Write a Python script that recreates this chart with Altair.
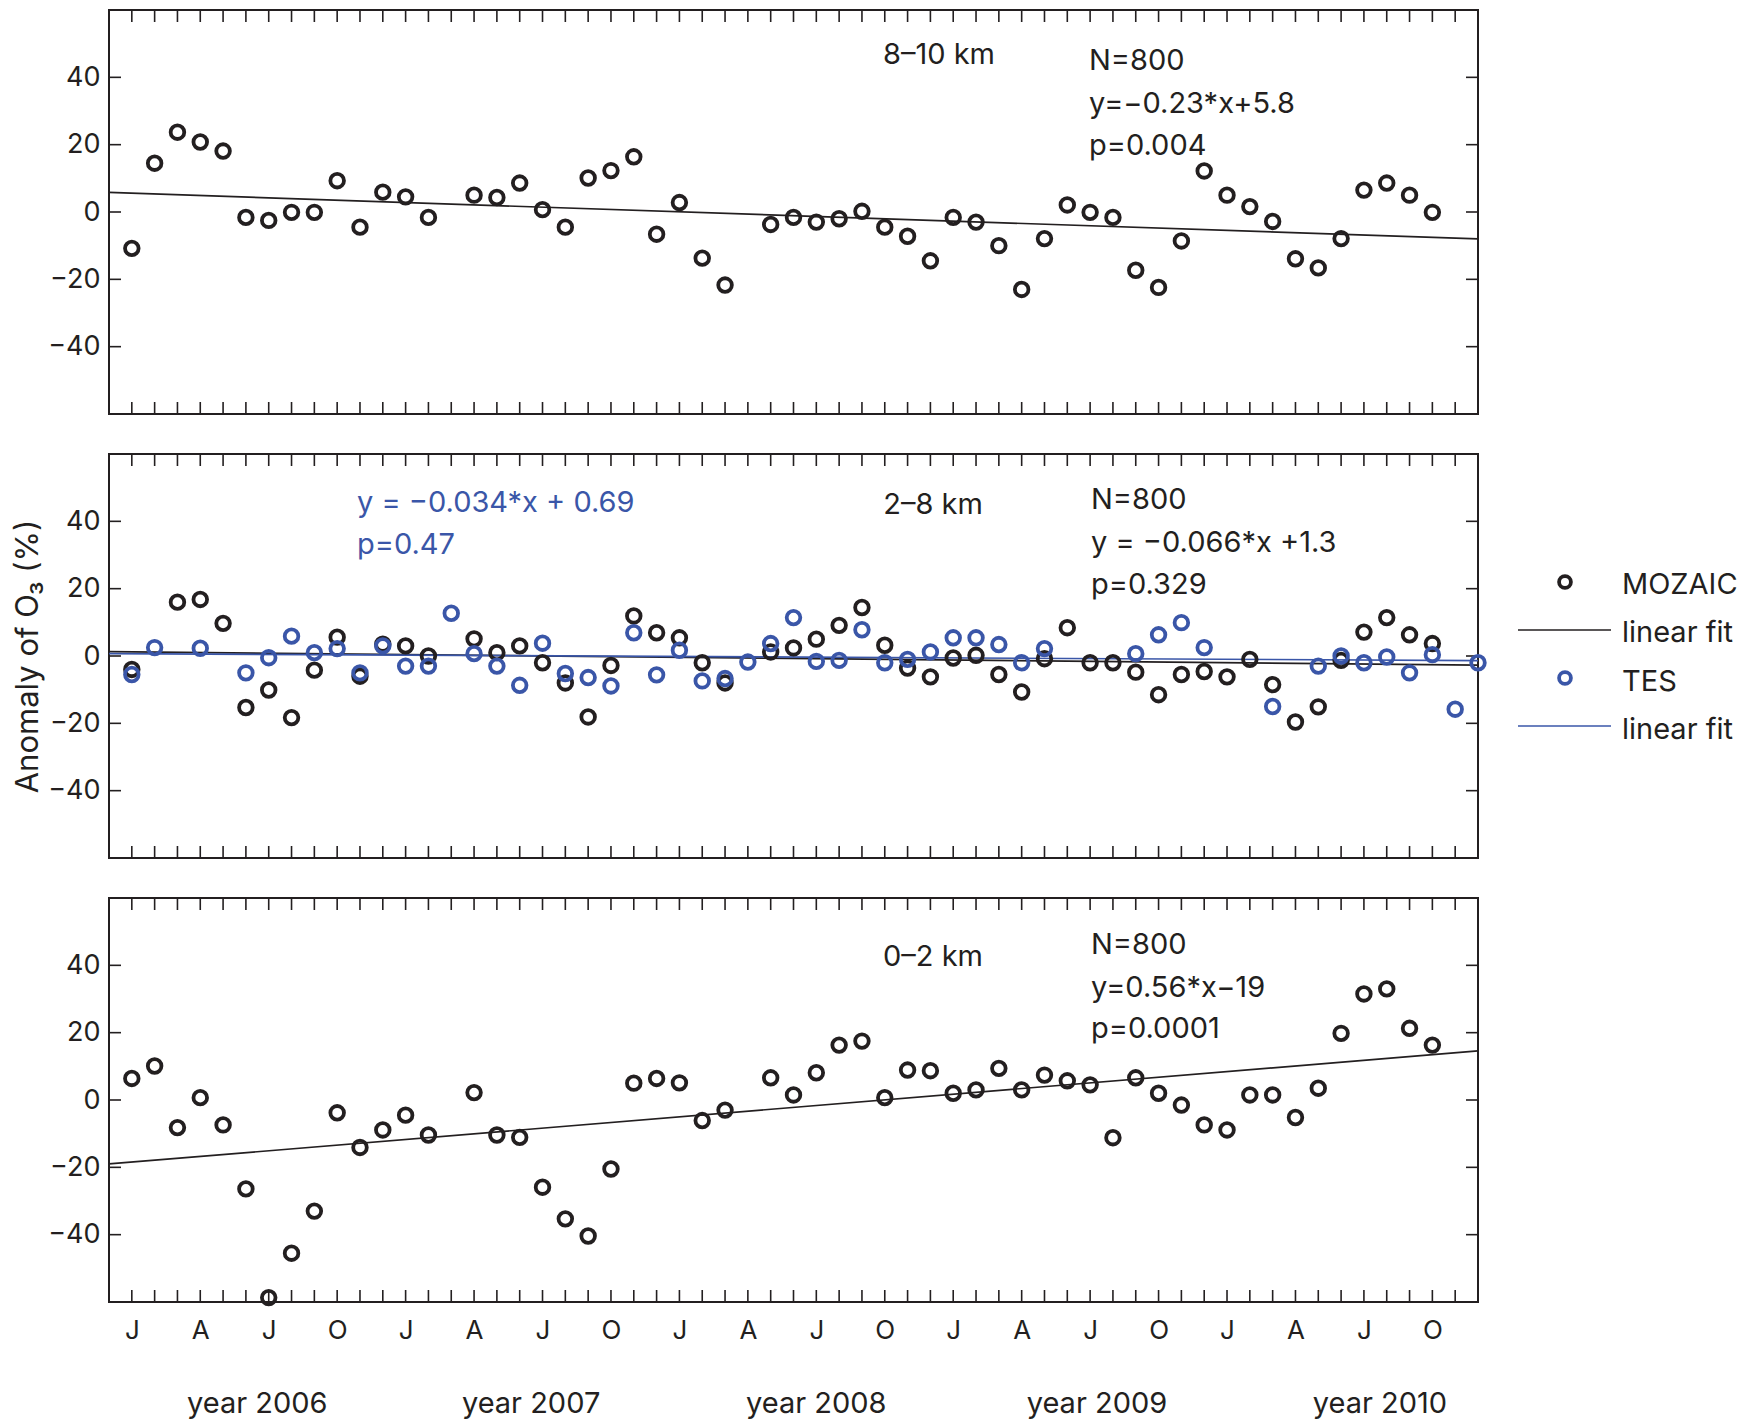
import altair as alt
import pandas as pd

# ---------------- data ----------------
months = list(range(60))  # 0 = Jan 2006 ... 59 = Dec 2010

moz_8_10 = [-10.8, 14.5, 23.7, 20.8, 18.1, -1.6, -2.5, -0.1, -0.1, 9.3,
            -4.5, 5.9, 4.5, -1.6, None, 5.0, 4.3, 8.6, 0.7, -4.5,
            10.1, 12.3, 16.4, -6.6, 2.8, -13.7, -21.7, None, -3.7, -1.6,
            -3.0, -2.0, 0.2, -4.5, -7.2, -14.5, -1.6, -3.0, -10.0, -23.0,
            -7.9, 2.1, -0.1, -1.6, -17.3, -22.4, -8.6, 12.2, 5.0, 1.6,
            -2.8, -13.9, -16.6, -7.9, 6.5, 8.6, 5.0, -0.1, None, None]

moz_2_8 = [-4.0, None, 16.0, 16.8, 9.7, -15.3, -10.1, -18.3, -4.2, 5.6,
           -6.0, 3.5, 3.0, 0.0, None, 5.1, 1.0, 3.0, -2.0, -8.0,
           -18.1, -2.8, 11.9, 6.9, 5.4, -2.0, -8.0, None, 1.2, 2.4,
           5.0, 9.1, 14.4, 3.2, -3.6, -6.2, -0.6, 0.2, -5.5, -10.7,
           -0.8, 8.4, -2.0, -2.0, -4.8, -11.5, -5.5, -4.6, -6.2, -1.0,
           -8.5, -19.6, -15.1, -1.3, 7.1, 11.4, 6.3, 3.7, None, None]

tes_2_8 = [-5.5, 2.5, None, 2.3, None, -5.0, -0.5, 5.9, 1.0, 2.2,
           -5.0, 3.0, -3.0, -3.0, 12.7, 0.7, -3.0, -8.7, 3.8, -5.2,
           -6.4, -8.9, 6.9, -5.6, 1.7, -7.4, -6.7, -1.8, 3.7, 11.4,
           -1.6, -1.3, 7.8, -2.0, -1.0, 1.2, 5.4, 5.4, 3.4, -2.0,
           2.2, None, None, None, 0.7, 6.3, 9.9, 2.5, None, None,
           -15.0, None, -3.0, 0.0, -2.0, -0.3, -5.0, 0.4, -15.8, -2.0]

moz_0_2 = [6.4, 10.1, -8.2, 0.7, -7.4, -26.4, -58.7, -45.5, -33.0, -3.8,
           -14.1, -8.9, -4.5, -10.4, None, 2.2, -10.4, -11.1, -25.9, -35.3,
           -40.4, -20.5, 5.0, 6.4, 5.1, -6.1, -3.0, None, 6.6, 1.5,
           8.1, 16.3, 17.5, 0.7, 8.9, 8.7, 2.0, 3.0, 9.4, 3.0,
           7.4, 5.7, 4.5, -11.2, 6.6, 2.0, -1.5, -7.4, -8.9, 1.5,
           1.5, -5.2, 3.5, 19.8, 31.5, 33.0, 21.3, 16.3, None, None]

# linear fits (end points of the drawn fit lines)
fit_x = [-1, 59]
fit_8_10 = [5.8, -8.0]
fit_2_8_moz = [1.3, -2.7]
fit_2_8_tes = [0.69, -1.35]
fit_0_2 = [-19.0, 14.6]

y_ticks = [-40, -20, 0, 20, 40]
month_ticks = list(range(59))
quarter_ticks = [0, 3, 6, 9, 12, 15, 18, 21, 24, 27, 30, 33, 36, 39, 42, 45, 48, 51, 54, 57]
quarter_letters = ["J", "A", "J", "O"]
year_labels = ["year 2006", "year 2007", "year 2008", "year 2009", "year 2010"]
year_pos = [5.5, 17.5, 30.0, 42.3, 54.7]

# ---------------- styling ----------------
W, H = 1369, 404
BLACK = "#231f20"
BLUE = "#3a56a8"
FONT = "Inter"
TICK = 12
PT_SIZE = 185
PT_STROKE = 3.8

xscale = alt.Scale(domain=[-1, 59], nice=False, zero=False)
yscale = alt.Scale(domain=[-60, 60], nice=False, zero=False)
letters_expr = "[" + ",".join("'%s'" % s for s in quarter_letters) + "][floor(datum.value / 3) % 4]"


def y_axis(title):
    kw = dict(values=y_ticks, domain=False, ticks=False, grid=False,
              labelFont=FONT, labelFontSize=27, labelColor=BLACK, labelPadding=9,
              format="d")
    if title:
        kw.update(title=title, titleFont=FONT, titleFontSize=31, titleColor=BLACK,
                  titleFontWeight="normal", titlePadding=3)
    else:
        kw.update(title=None)
    return alt.Axis(**kw)


def x_axis(show):
    if not show:
        return None
    return alt.Axis(values=quarter_ticks, domain=False, ticks=False, grid=False,
                    labelExpr=letters_expr,
                    labelFont=FONT, labelFontSize=26, labelColor=BLACK, labelPadding=15,
                    labelFlush=False, labelOverlap=False, title=None)


def panel(series, fits, texts, ytitle=None, xlabels=False, extra=None):
    yax = y_axis(ytitle)
    xax = x_axis(xlabels)

    def X(field):
        return alt.X(field, type="quantitative", scale=xscale, axis=xax)

    def Y(field):
        return alt.Y(field, type="quantitative", scale=yscale, axis=yax)

    layers = []
    # inward tick marks (months on top/bottom, values on left/right)
    mdf = pd.DataFrame({"m": month_ticks})
    layers.append(alt.Chart(mdf).mark_rule(color=BLACK, strokeWidth=1.6).encode(
        x=X("m"), y=alt.value(0), y2=alt.value(TICK)))
    layers.append(alt.Chart(mdf).mark_rule(color=BLACK, strokeWidth=1.6).encode(
        x=X("m"), y=alt.value(H - TICK), y2=alt.value(H)))
    ydf = pd.DataFrame({"v": y_ticks})
    layers.append(alt.Chart(ydf).mark_rule(color=BLACK, strokeWidth=1.6).encode(
        y=Y("v"), x=alt.value(0), x2=alt.value(TICK)))
    layers.append(alt.Chart(ydf).mark_rule(color=BLACK, strokeWidth=1.6).encode(
        y=Y("v"), x=alt.value(W - TICK), x2=alt.value(W)))

    # fit lines
    for fy, col in fits:
        fdf = pd.DataFrame({"fx": fit_x, "fy": fy})
        layers.append(alt.Chart(fdf).mark_line(color=col, strokeWidth=1.7).encode(
            x=X("fx"), y=Y("fy")))

    # points
    for vals, col in series:
        df = pd.DataFrame({"month": months, "value": vals}).dropna()
        layers.append(alt.Chart(df).mark_point(
            shape="circle", filled=False, size=PT_SIZE, strokeWidth=PT_STROKE,
            color=col, opacity=1).encode(x=X("month"), y=Y("value")))

    # annotation texts
    for t, x, y, col, align in texts:
        layers.append(alt.Chart(pd.DataFrame({"t": [t]})).mark_text(
            align=align, baseline="middle", font=FONT, fontSize=29, color=col).encode(
            text="t:N", x=alt.value(x), y=alt.value(y)))

    if extra:
        layers.extend(extra(X, Y))

    return alt.layer(*layers).properties(width=W, height=H)


def legend_layers(X, Y):
    out = []
    one = pd.DataFrame({"k": [0]})
    out.append(alt.Chart(one).mark_point(shape="circle", filled=False, size=140, strokeWidth=PT_STROKE,
                                         color=BLACK, opacity=1).encode(
        x=alt.value(1456), y=alt.value(128)))
    out.append(alt.Chart(one).mark_rule(color=BLACK, strokeWidth=1.7).encode(
        x=alt.value(1409), x2=alt.value(1502), y=alt.value(176)))
    out.append(alt.Chart(one).mark_point(shape="circle", filled=False, size=140, strokeWidth=PT_STROKE,
                                         color=BLUE, opacity=1).encode(
        x=alt.value(1456), y=alt.value(224)))
    out.append(alt.Chart(one).mark_rule(color=BLUE, strokeWidth=1.7).encode(
        x=alt.value(1409), x2=alt.value(1502), y=alt.value(272)))
    for t, y in [("MOZAIC", 131), ("linear fit", 179), ("TES", 228), ("linear fit", 276)]:
        out.append(alt.Chart(pd.DataFrame({"t": [t]})).mark_text(
            align="left", baseline="middle", font=FONT, fontSize=29, color=BLACK).encode(
            text="t:N", x=alt.value(1513), y=alt.value(y)))
    return out


def year_layers(X, Y):
    ydf = pd.DataFrame({"label": year_labels, "pos": year_pos})
    return [alt.Chart(ydf).mark_text(baseline="middle", align="center", font=FONT,
                                     fontSize=29, color=BLACK).encode(
        x=X("pos"), y=alt.value(H + 102), text="label:N")]


top = panel(
    series=[(moz_8_10, BLACK)],
    fits=[(fit_8_10, BLACK)],
    texts=[("8–10 km", 830, 45, BLACK, "center"),
           ("N=800", 980, 51, BLACK, "left"),
           ("y=−0.23*x+5.8", 980, 94, BLACK, "left"),
           ("p=0.004", 980, 136, BLACK, "left")],
)

mid = panel(
    series=[(moz_2_8, BLACK), (tes_2_8, BLUE)],
    fits=[(fit_2_8_moz, BLACK), (fit_2_8_tes, BLUE)],
    texts=[("2–8 km", 824, 51, BLACK, "center"),
           ("N=800", 982, 46, BLACK, "left"),
           ("y = −0.066*x +1.3", 982, 89, BLACK, "left"),
           ("p=0.329", 982, 131, BLACK, "left"),
           ("y = −0.034*x + 0.69", 248, 49, BLUE, "left"),
           ("p=0.47", 248, 91, BLUE, "left")],
    ytitle="Anomaly of O₃ (%)",
    extra=legend_layers,
)

bot = panel(
    series=[(moz_0_2, BLACK)],
    fits=[(fit_0_2, BLACK)],
    texts=[("0–2 km", 824, 59, BLACK, "center"),
           ("N=800", 982, 47, BLACK, "left"),
           ("y=0.56*x−19", 982, 90, BLACK, "left"),
           ("p=0.0001", 982, 131, BLACK, "left")],
    xlabels=True,
    extra=year_layers,
)

chart = alt.vconcat(top, mid, bot, spacing=36).properties(
    padding={"left": 3, "top": 0, "right": 0, "bottom": 0},
    background="white",
).configure_view(
    stroke=BLACK, strokeWidth=2
)

chart.save("out.html", embed_options={"renderer": "svg", "actions": False})
